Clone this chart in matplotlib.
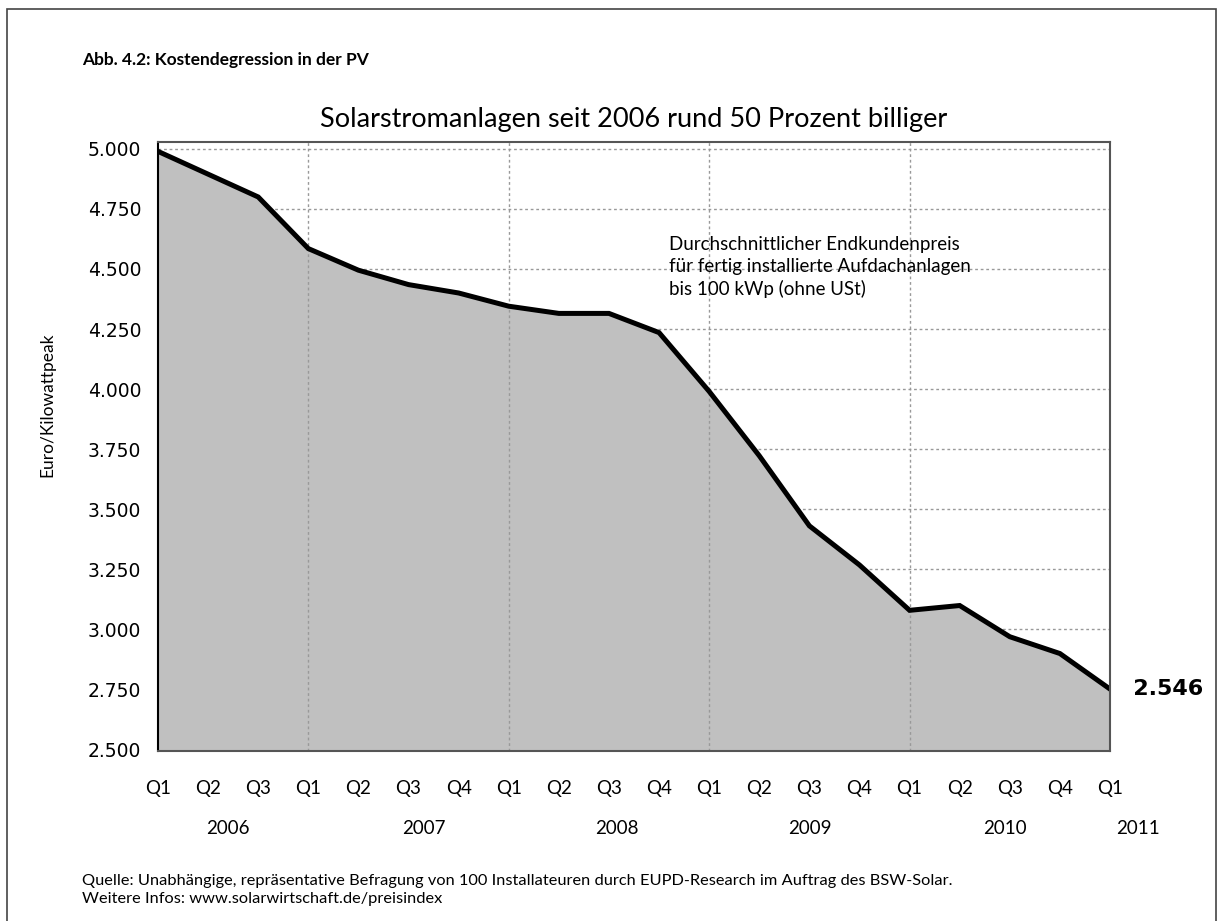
import numpy as np
import matplotlib
matplotlib.use('Agg')
import matplotlib.pyplot as plt
from matplotlib.patches import Rectangle

# Daten: Endkundenpreis in Euro/kWp je Quartal
quartale = ['Q1', 'Q2', 'Q3',
            'Q1', 'Q2', 'Q3', 'Q4',
            'Q1', 'Q2', 'Q3', 'Q4',
            'Q1', 'Q2', 'Q3', 'Q4',
            'Q1', 'Q2', 'Q3', 'Q4',
            'Q1']
preise = [4990, 4895, 4800,
          4585, 4495, 4435, 4400,
          4345, 4315, 4315, 4235,
          3990, 3722, 3430, 3267,
          3078, 3098, 2968, 2898,
          2750]
jahre = ['2006', '2007', '2008', '2009', '2010', '2011']
jahr_pos = [1.4, 5.3, 9.15, 13.0, 16.9, 19.55]
jahr_start = [3, 7, 11, 15]   # Q1-Positionen mit senkrechter Gitterlinie
y_ticks = [2500, 2750, 3000, 3250, 3500, 3750, 4000, 4250, 4500, 4750, 5000]
letzter_wert = '2.546'

TXT = ['Lato', 'DejaVu Sans']
NUM = ['DejaVu Sans']

fig = plt.figure(figsize=(12.23, 9.21), dpi=100)
ax = fig.add_axes([0.1292, 0.1846, 0.7784, 0.6612])

x = np.arange(len(preise))
ax.fill_between(x, preise, 2000, color='#c0c0c0', zorder=2, lw=0)
ax.plot(x, preise, color='black', lw=3.6, zorder=5, solid_joinstyle='miter')

# senkrechte Gitterlinien ueber der Flaeche
for p in jahr_start:
    ax.axvline(p, color='#999999', lw=1, ls=(0, (2, 2)), zorder=3)

ax.set_xlim(0, len(preise) - 1)
ax.set_ylim(2492, 5029)
ax.set_yticks(y_ticks)
ax.set_yticklabels([f'{v:,}'.replace(',', '.') for v in y_ticks],
                   fontsize=13.5, family=NUM)
ax.yaxis.grid(True, color='#999999', lw=1, ls=(0, (2, 2)), zorder=1)
ax.set_axisbelow(True)
ax.tick_params(axis='y', length=0, pad=12)

ax.set_xticks(x)
ax.set_xticklabels(quartale, fontsize=13.5, family=TXT)
ax.tick_params(axis='x', length=0, pad=21)

for j, p in zip(jahre, jahr_pos):
    ax.text(p, -0.1265, j, transform=ax.get_xaxis_transform(), ha='center',
            va='center', fontsize=13.5, family=TXT)

for s in ['top', 'right', 'bottom']:
    ax.spines[s].set_color('#555555')
    ax.spines[s].set_linewidth(1.5)
ax.spines['left'].set_color('black')
ax.spines['left'].set_linewidth(1.5)
for s in ax.spines.values():
    s.set_zorder(6)

ax.set_ylabel('Euro/Kilowattpeak', fontsize=12.5, family=TXT)
ax.yaxis.set_label_coords(-0.108, 0.568)

ax.text(x[-1], preise[-1], '   ' + letzter_wert, fontsize=16, fontweight='bold',
        family=NUM, ha='left', va='center', clip_on=False)

ax.text(10.2, 4638, 'Durchschnittlicher Endkundenpreis\n'
        'für fertig installierte Aufdachanlagen\n'
        'bis 100 kWp (ohne USt)', fontsize=13.5, family=TXT,
        ha='left', va='top', linespacing=1.36, zorder=4)

ax.set_title('Solarstromanlagen seit 2006 rund 50 Prozent billiger',
             fontsize=19.5, family=TXT, pad=11)

fig.text(0.067, 0.935, 'Abb. 4.2: Kostendegression in der PV', fontsize=12.5,
         fontweight='bold', family=TXT, va='center')
fig.text(0.067, 0.0335, 'Quelle: Unabhängige, repräsentative Befragung von 100 '
         'Installateuren durch EUPD-Research im Auftrag des BSW-Solar.\n'
         'Weitere Infos: www.solarwirtschaft.de/preisindex',
         fontsize=11.8, family=TXT, va='center', linespacing=1.3)

fig.patches.append(Rectangle((0.006, -0.05), 0.988, 1.04, transform=fig.transFigure,
                             fill=False, edgecolor='#444444', lw=1.2))

fig.savefig('out.png', dpi=100)
